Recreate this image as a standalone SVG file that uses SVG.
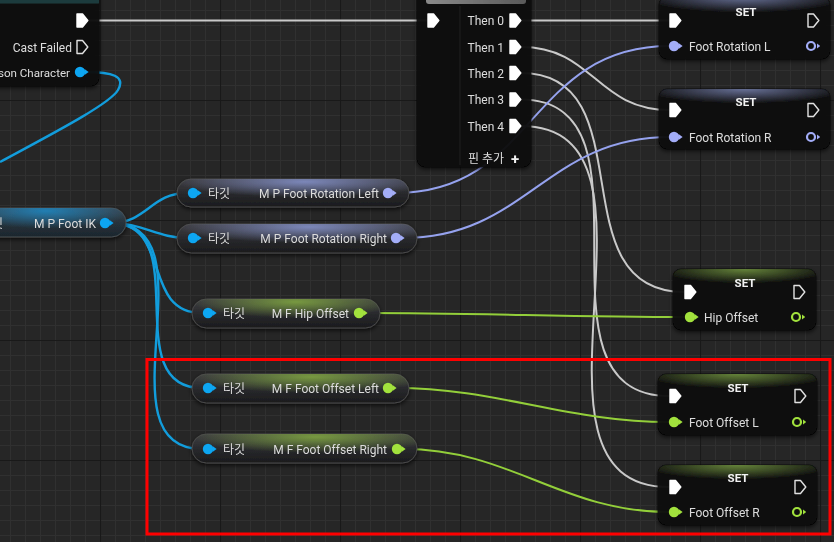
<svg xmlns="http://www.w3.org/2000/svg" width="834" height="542" viewBox="0 0 834 542">
<defs>
  <style>
    .t{font-family:Roboto,"Noto Sans CJK KR","Noto Sans",sans-serif;font-size:12px;fill:#dcdcdc}
    .e{text-anchor:end}
    .h{font-weight:bold;font-size:11.5px;fill:#f2f2f2;text-anchor:middle}
    .body{fill:#101010;fill-opacity:0.9;stroke:#000;stroke-opacity:0.6;stroke-width:1}
    .pill{stroke:#4a4a4a;stroke-width:1}
    .wx{fill:none;stroke:#c9c9c9;stroke-width:2}
    .wb{fill:none;stroke:#129ddc;stroke-width:2.4}
    .wr{fill:none;stroke:#95a2ee;stroke-width:2}
    .wg{fill:none;stroke:#93cf3a;stroke-width:2}
    .exf{fill:#ffffff;stroke:#ffffff;stroke-width:1.4;stroke-linejoin:round}
    .exh{fill:none;stroke:#e0e0e0;stroke-width:1.4;stroke-linejoin:round}
  </style>
  <pattern id="gMinor" x="10" y="10" width="15" height="15" patternUnits="userSpaceOnUse">
    <path d="M0,0.5 H15 M0.5,0 V15" stroke="#303030" stroke-width="1" fill="none"/>
  </pattern>
  <pattern id="gMajor" x="100" y="100" width="120" height="120" patternUnits="userSpaceOnUse">
    <path d="M0,0.5 H120 M0.5,0 V120" stroke="#191919" stroke-width="1.2" fill="none"/>
  </pattern>
  <filter id="sh" x="-10%" y="-30%" width="120%" height="170%">
    <feDropShadow dx="0" dy="2" stdDeviation="2" flood-color="#000" flood-opacity="0.7"/>
  </filter>
  <linearGradient id="pillBase" x1="0" y1="0" x2="0" y2="1">
    <stop offset="0" stop-color="#3e3e42"/>
    <stop offset="0.55" stop-color="#27282b"/>
    <stop offset="1" stop-color="#1b1b1d"/>
  </linearGradient>
  <radialGradient id="tRot" cx="0.55" cy="0.1" r="0.55">
    <stop offset="0" stop-color="#8c9ad8" stop-opacity="0.8"/>
    <stop offset="1" stop-color="#8c9ad8" stop-opacity="0"/>
  </radialGradient>
  <radialGradient id="tGrn" cx="0.55" cy="0.1" r="0.55">
    <stop offset="0" stop-color="#86b040" stop-opacity="0.8"/>
    <stop offset="1" stop-color="#86b040" stop-opacity="0"/>
  </radialGradient>
  <radialGradient id="tBlu" cx="0.45" cy="0.1" r="0.6">
    <stop offset="0" stop-color="#1f86c0" stop-opacity="0.9"/>
    <stop offset="1" stop-color="#1f86c0" stop-opacity="0.1"/>
  </radialGradient>
  <radialGradient id="hRot" cx="0.5" cy="0" r="0.6">
    <stop offset="0" stop-color="#7d88b8" stop-opacity="0.8"/>
    <stop offset="1" stop-color="#7d88b8" stop-opacity="0"/>
  </radialGradient>
  <radialGradient id="hGrn" cx="0.5" cy="0" r="0.6">
    <stop offset="0" stop-color="#7aa044" stop-opacity="0.8"/>
    <stop offset="1" stop-color="#7aa044" stop-opacity="0"/>
  </radialGradient>
  <linearGradient id="seqHead" x1="0" y1="0" x2="1" y2="0">
    <stop offset="0" stop-color="#8a8a8a"/>
    <stop offset="1" stop-color="#5a5a5a"/>
  </linearGradient>
  <path id="ex" d="M-5,-6.5 H0.5 L5.8,0 L0.5,6.5 H-5 Z"/>
  <g id="dp"><circle r="5.2"/><path d="M4.5,-3 L8.6,0 L4.5,3 Z"/></g>
  <g id="rp"><circle r="4" fill="none" stroke-width="2.2"/><path d="M6,-2.6 L9.2,0 L6,2.6 Z" stroke="none"/></g>
</defs>

<rect width="834" height="542" fill="#262626"/>
<rect width="834" height="542" fill="url(#gMinor)"/>
<rect width="834" height="542" fill="url(#gMajor)"/>

<g id="connectors">
  <path class="wx" d="M88,20.5 H428"/>
  <path class="wx" d="M521,20.5 H670"/>
  <path class="wx" d="M521,47 C594,47 596,110 670,110"/>
  <path class="wx" d="M521,73 C647,73 556,292 684,292"/>
  <path class="wx" d="M521,99.5 C668,99.5 520,396 669,396"/>
  <path class="wx" d="M521,126 C689,126 499,487 669,487"/>
  <path class="wb" d="M86,72 C112,72 126,76 118,90 C110,104 50,135 0,162"/>
  <path class="wb" d="M111,223 C147,223 151,193 187,193"/>
  <path class="wb" d="M111,223 C142,223 158,238 187,238"/>
  <path class="wb" d="M111,223 C172,223 141,313 202,313"/>
  <path class="wb" d="M111,223 C197,223 116,388 202,388"/>
  <path class="wb" d="M111,223 C217,223 96,449 202,449"/>
  <path class="wr" d="M395,193 C536,193 528,46 670,46"/>
  <path class="wr" d="M403,238 C526,238 546,137 670,137"/>
  <path class="wg" d="M366,313 C472,313 578,317 684,317"/>
  <path class="wg" d="M395,388 C497,388 567,422 669,422"/>
  <path class="wg" d="M403,449 C511,449 561,512 669,512"/>
</g>

<g id="node-cast" filter="url(#sh)">
  <rect class="body" x="-20" y="-20" width="119" height="106" rx="8"/>
  <path d="M-20,3.5 V-20 H99 V3.5 Z" fill="#1d3a3e"/>
  <use href="#ex" class="exf" x="82" y="20.5"/>
  <text class="t e" x="72" y="51.5">Cast Failed</text>
  <use href="#ex" class="exh" x="82" y="47"/>
  <text class="t e" x="70" y="76.5" style="font-size:11.6px">son Character</text>
  <use href="#dp" x="80" y="72" fill="#0ba6f2"/>
</g>

<g id="node-sequence" filter="url(#sh)">
  <rect class="body" x="417" y="-20" width="114" height="187" rx="8"/>
  <rect x="426" y="-20" width="100" height="24" rx="3" fill="url(#seqHead)"/>
  <line x1="460" y1="6" x2="460" y2="165" stroke="#ffffff" stroke-opacity="0.05"/>
  <use href="#ex" class="exf" x="433" y="20.5"/>
  <text class="t e" x="504" y="25">Then 0</text>
  <use href="#ex" class="exf" x="515" y="20.5"/>
  <text class="t e" x="504" y="51.5">Then 1</text>
  <use href="#ex" class="exf" x="515" y="47"/>
  <text class="t e" x="504" y="77.5">Then 2</text>
  <use href="#ex" class="exf" x="515" y="73"/>
  <text class="t e" x="504" y="104">Then 3</text>
  <use href="#ex" class="exf" x="515" y="99.5"/>
  <text class="t e" x="504" y="130.5">Then 4</text>
  <use href="#ex" class="exf" x="515" y="126"/>
  <text class="t e" x="504" y="162.5">핀 추가</text>
  <text class="t" x="511" y="163.5" style="font-size:15px;font-weight:bold;fill:#f0f0f0">+</text>
</g>

<g id="node-get-footik" filter="url(#sh)">
  <rect class="pill" x="-20" y="208" width="146" height="29" rx="14.5" fill="url(#pillBase)"/>
  <rect x="-20" y="208" width="146" height="29" rx="14.5" fill="url(#tBlu)"/>
  <text class="t e" x="3" y="227.5">타깃</text>
  <text class="t e" x="96" y="227.5">M P Foot IK</text>
  <use href="#dp" x="105" y="223" fill="#0ba6f2"/>
</g>

<g id="node-get-rotleft" filter="url(#sh)">
  <rect class="pill" x="177" y="179" width="232" height="28" rx="14" fill="url(#pillBase)"/>
  <rect x="177" y="179" width="232" height="28" rx="14" fill="url(#tRot)"/>
  <use href="#dp" x="193" y="193" fill="#0ba6f2"/>
  <text class="t" x="208" y="197.5">타깃</text>
  <text class="t e" x="379" y="197.5">M P Foot Rotation Left</text>
  <use href="#dp" x="388" y="193" fill="#a3adf8"/>
</g>

<g id="node-get-rotright" filter="url(#sh)">
  <rect class="pill" x="177" y="224" width="240" height="29" rx="14.5" fill="url(#pillBase)"/>
  <rect x="177" y="224" width="240" height="29" rx="14.5" fill="url(#tRot)"/>
  <use href="#dp" x="193" y="238" fill="#0ba6f2"/>
  <text class="t" x="208" y="242.5">타깃</text>
  <text class="t e" x="387" y="242.5">M P Foot Rotation Right</text>
  <use href="#dp" x="396" y="238" fill="#a3adf8"/>
</g>

<g id="node-get-hip" filter="url(#sh)">
  <rect class="pill" x="192" y="299" width="188" height="29" rx="14.5" fill="url(#pillBase)"/>
  <rect x="192" y="299" width="188" height="29" rx="14.5" fill="url(#tGrn)"/>
  <use href="#dp" x="208" y="313" fill="#0ba6f2"/>
  <text class="t" x="223" y="317.5">타깃</text>
  <text class="t e" x="349" y="317.5">M F Hip Offset</text>
  <use href="#dp" x="359" y="313" fill="#a2e23c"/>
</g>

<g id="node-get-offleft" filter="url(#sh)">
  <rect class="pill" x="192" y="374" width="217" height="29" rx="14.5" fill="url(#pillBase)"/>
  <rect x="192" y="374" width="217" height="29" rx="14.5" fill="url(#tGrn)"/>
  <use href="#dp" x="208" y="388" fill="#0ba6f2"/>
  <text class="t" x="223" y="392.5">타깃</text>
  <text class="t e" x="379" y="392.5">M F Foot Offset Left</text>
  <use href="#dp" x="388" y="388" fill="#a2e23c"/>
</g>

<g id="node-get-offright" filter="url(#sh)">
  <rect class="pill" x="192" y="434" width="225" height="29" rx="14.5" fill="url(#pillBase)"/>
  <rect x="192" y="434" width="225" height="29" rx="14.5" fill="url(#tGrn)"/>
  <use href="#dp" x="208" y="449" fill="#0ba6f2"/>
  <text class="t" x="223" y="453.5">타깃</text>
  <text class="t e" x="387" y="453.5">M F Foot Offset Right</text>
  <use href="#dp" x="397" y="449" fill="#a2e23c"/>
</g>

<g id="node-set-rotl" filter="url(#sh)">
  <rect class="body" x="659" y="-3" width="171" height="62" rx="8"/>
  <rect x="659" y="-3" width="171" height="26" rx="8" fill="url(#hRot)"/>
  <text class="t h" x="746" y="16">SET</text>
  <use href="#ex" class="exf" x="675" y="20.5"/>
  <use href="#ex" class="exh" x="813" y="20.5"/>
  <use href="#dp" x="674" y="46" fill="#a3adf8"/>
  <text class="t" x="689" y="50.5">Foot Rotation L</text>
  <use href="#rp" x="811" y="46" stroke="#a3adf8" fill="#a3adf8"/>
</g>

<g id="node-set-rotr" filter="url(#sh)">
  <rect class="body" x="659" y="89" width="171" height="60" rx="8"/>
  <rect x="659" y="89" width="171" height="24" rx="8" fill="url(#hRot)"/>
  <text class="t h" x="746" y="106">SET</text>
  <use href="#ex" class="exf" x="675" y="110"/>
  <use href="#ex" class="exh" x="813" y="110"/>
  <use href="#dp" x="674" y="137" fill="#a3adf8"/>
  <text class="t" x="689" y="141.5">Foot Rotation R</text>
  <use href="#rp" x="811" y="137" stroke="#a3adf8" fill="#a3adf8"/>
</g>

<g id="node-set-hip" filter="url(#sh)">
  <rect class="body" x="673" y="269" width="143" height="61" rx="8"/>
  <rect x="673" y="269" width="143" height="24" rx="8" fill="url(#hGrn)"/>
  <text class="t h" x="745" y="287">SET</text>
  <use href="#ex" class="exf" x="690" y="292"/>
  <use href="#ex" class="exh" x="799" y="292"/>
  <use href="#dp" x="690" y="317" fill="#a2e23c"/>
  <text class="t" x="704" y="321.5">Hip Offset</text>
  <use href="#rp" x="796" y="317" stroke="#a2e23c" fill="#a2e23c"/>
</g>

<g id="node-set-offl" filter="url(#sh)">
  <rect class="body" x="658" y="374" width="159" height="61" rx="8"/>
  <rect x="658" y="374" width="159" height="24" rx="8" fill="url(#hGrn)"/>
  <text class="t h" x="738" y="392">SET</text>
  <use href="#ex" class="exf" x="675" y="396"/>
  <use href="#ex" class="exh" x="800" y="396"/>
  <use href="#dp" x="674" y="422" fill="#a2e23c"/>
  <text class="t" x="689" y="426.5">Foot Offset L</text>
  <use href="#rp" x="797" y="422" stroke="#a2e23c" fill="#a2e23c"/>
</g>

<g id="node-set-offr" filter="url(#sh)">
  <rect class="body" x="658" y="465" width="159" height="60" rx="8"/>
  <rect x="658" y="465" width="159" height="24" rx="8" fill="url(#hGrn)"/>
  <text class="t h" x="738" y="482">SET</text>
  <use href="#ex" class="exf" x="675" y="487"/>
  <use href="#ex" class="exh" x="800" y="487"/>
  <use href="#dp" x="674" y="512" fill="#a2e23c"/>
  <text class="t" x="689" y="516.5">Foot Offset R</text>
  <use href="#rp" x="797" y="512" stroke="#a2e23c" fill="#a2e23c"/>
</g>

<rect id="highlight" x="147" y="359.5" width="683" height="174.5" fill="none" stroke="#ff0000" stroke-width="3"/>
</svg>
